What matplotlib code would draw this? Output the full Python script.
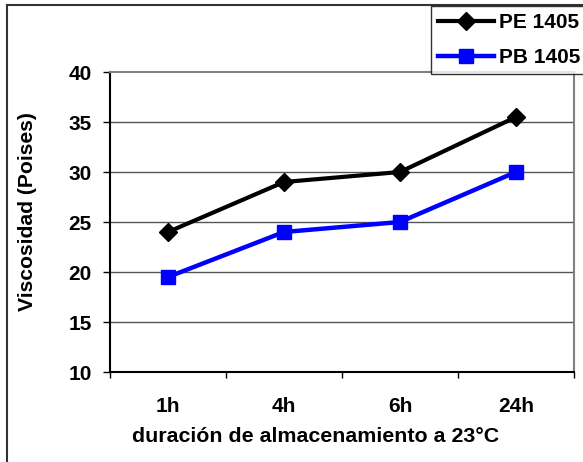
import matplotlib
matplotlib.use("Agg")
import matplotlib.pyplot as plt
from matplotlib.lines import Line2D

categories = ["1h", "4h", "6h", "24h"]
pe_1405 = [24, 29, 30, 35.5]
pb_1405 = [19.5, 24, 25, 30]
yticks = [10, 15, 20, 25, 30, 35, 40]

plt.rcParams['font.family'] = ['Liberation Sans', 'DejaVu Sans']
W, H = 583, 462
fig = plt.figure(figsize=(W/100, H/100), dpi=100)
L, R, T, B = 110, 574, 72, 372
ax = fig.add_axes([L/W, 1-B/H, (R-L)/W, (B-T)/H])

x = list(range(len(categories)))
ax.plot(x, pe_1405, color='black', lw=3, marker='D', markersize=9, label='PE 1405', zorder=3)
ax.plot(x, pb_1405, color='#0000ff', lw=3.2, marker='s', markersize=9.5, label='PB 1405', zorder=3)

ax.set_xlim(-0.5, len(categories)-0.5)
ax.set_ylim(10, 40)
ax.set_yticks(yticks)
ax.set_yticklabels([str(v) for v in yticks], fontsize=15, fontweight='bold')
ax.set_xticks(x)
ax.set_xticklabels(categories, fontsize=15, fontweight='bold')
ax.set_xticks([i - 0.5 for i in range(len(categories)+1)], minor=True)
ax.tick_params(axis='x', which='major', length=0, pad=18)
ax.tick_params(axis='x', which='minor', length=4.5, width=1, direction='out', color='black')
ax.tick_params(axis='y', length=5, width=1, direction='out', pad=8)

for v in yticks[1:-1]:
    ax.axhline(v, color='#555555', lw=1, zorder=1)

ax.spines['left'].set_color('black')
ax.spines['left'].set_linewidth(1.5)
ax.spines['bottom'].set_color('black')
ax.spines['bottom'].set_linewidth(1.5)
ax.spines['top'].set_color('#808080')
ax.spines['top'].set_linewidth(1.5)
ax.spines['right'].set_color('#808080')
ax.spines['right'].set_linewidth(1.5)

fig.text(28/W, 1-212/H, 'Viscosidad (Poises)', rotation=90, ha='center', va='center',
         fontsize=15.2, fontweight='bold')
fig.text(316/W, 1-437/H, 'duración de almacenamiento a 23°C', ha='center', va='center',
         fontsize=15.4, fontweight='bold')

# outer chart border (left and top edges visible)
fig.add_artist(Line2D([7/W, 7/W], [0, 1-5/H], color='#333333', lw=1.5, transform=fig.transFigure))
fig.add_artist(Line2D([7/W, 1], [1-5/H, 1-5/H], color='#333333', lw=1.5, transform=fig.transFigure))

leg = fig.legend(loc='upper left', bbox_to_anchor=(431/W, 1-6/H),
                 prop={'weight': 'bold', 'size': 15}, frameon=True, fancybox=False,
                 edgecolor='black', handlelength=2.65, handletextpad=0.25,
                 borderpad=0.35, labelspacing=0.75, borderaxespad=0)
leg.get_frame().set_linewidth(1)

fig.savefig('out.png', dpi=100)
